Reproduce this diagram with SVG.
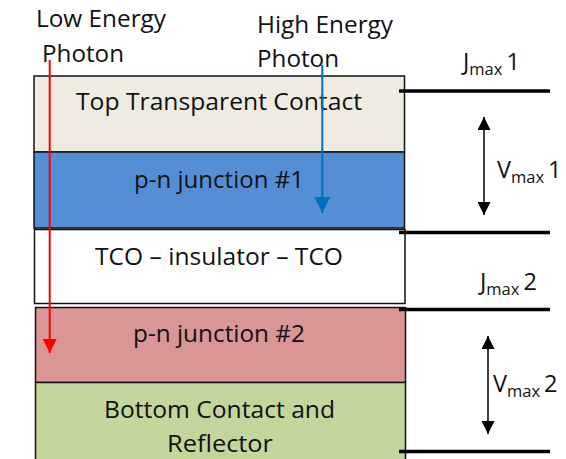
<svg xmlns="http://www.w3.org/2000/svg" width="566" height="459" viewBox="0 0 566 459">
<style>
text{font-family:"Open Sans","Liberation Sans",Arial,sans-serif;fill:#111;}
.lbl{font-size:23.5px;}
.big{font-size:23.5px;}
.sub{font-size:16.5px;}
.layer{stroke:#111;stroke-width:1.5;}
.term{stroke:#000;stroke-width:3.5;}
.v{stroke:#000;stroke-width:1.5;fill:none;}
</style>
<defs>
<marker id="ah" viewBox="0 0 10 10" refX="10" refY="5" markerWidth="14" markerHeight="13" markerUnits="userSpaceOnUse" orient="auto-start-reverse"><path d="M0,0 L10,5 L0,10 Z" fill="#000"/></marker>
<marker id="ahRed" viewBox="0 0 10 10" refX="10" refY="5" markerWidth="15" markerHeight="14" markerUnits="userSpaceOnUse" orient="auto"><path d="M0,0 L10,5 L0,10 Z" fill="#FF0000"/></marker>
<marker id="ahBlue" viewBox="0 0 10 10" refX="10" refY="5" markerWidth="16" markerHeight="16" markerUnits="userSpaceOnUse" orient="auto"><path d="M0,0 L10,5 L0,10 Z" fill="#0070C0"/></marker>
</defs>
<rect width="566" height="459" fill="#fff"/>

<g id="top-contact">
<rect class="layer" x="34" y="76" width="370.5" height="76" fill="#EEECE1"/>
<text class="lbl" x="219" y="110" text-anchor="middle" textLength="286" lengthAdjust="spacingAndGlyphs">Top Transparent Contact</text>
</g>
<g id="pn1">
<rect class="layer" x="34" y="152" width="370.5" height="76" fill="#558ED5"/>
<text class="lbl" x="219" y="188" text-anchor="middle" textLength="170" lengthAdjust="spacingAndGlyphs">p-n junction #1</text>
</g>
<g id="tco">
<rect class="layer" x="34.5" y="229.5" width="370.5" height="74" fill="#fff"/>
<text class="lbl" x="219" y="265" text-anchor="middle" textLength="248" lengthAdjust="spacingAndGlyphs">TCO – insulator – TCO</text>
</g>
<g id="pn2">
<rect class="layer" x="35.5" y="307.5" width="370" height="75" fill="#D99694" stroke="#555"/>
<text class="lbl" x="219" y="342" text-anchor="middle" textLength="172" lengthAdjust="spacingAndGlyphs">p-n junction #2</text>
</g>
<g id="bottom">
<rect class="layer" x="35.5" y="382.5" width="370" height="80" fill="#C3D69B"/>
<text class="lbl" x="219.5" y="418" text-anchor="middle" textLength="231" lengthAdjust="spacingAndGlyphs">Bottom Contact and</text>
<text class="lbl" x="220" y="452" text-anchor="middle" textLength="106" lengthAdjust="spacingAndGlyphs">Reflector</text>
</g>

<g id="photon-labels">
<text class="lbl" x="36" y="27" textLength="130" lengthAdjust="spacingAndGlyphs">Low Energy</text>
<text class="lbl" x="42" y="62" textLength="82" lengthAdjust="spacingAndGlyphs">Photon</text>
<text class="lbl" x="257" y="33" textLength="136" lengthAdjust="spacingAndGlyphs">High Energy</text>
<text class="lbl" x="257" y="67" textLength="82" lengthAdjust="spacingAndGlyphs">Photon</text>
</g>

<g id="terminals">
<text class="big" x="463" y="70">J<tspan class="sub" dy="5">max</tspan><tspan dy="-5" dx="4">1</tspan></text>
<text class="big" x="497" y="178">V<tspan class="sub" dy="5">max</tspan><tspan dy="-5" dx="4">1</tspan></text>
<text class="big" x="480" y="290">J<tspan class="sub" dy="5">max</tspan><tspan dy="-5" dx="4">2</tspan></text>
<text class="big" x="493" y="392">V<tspan class="sub" dy="5">max</tspan><tspan dy="-5" dx="4">2</tspan></text>
</g>

<g id="connectors">
<line class="term" x1="399" y1="91" x2="550" y2="91"/>
<line class="term" x1="399" y1="232.5" x2="550" y2="232.5"/>
<line class="term" x1="399" y1="309.5" x2="550" y2="309.5"/>
<line class="term" x1="399" y1="451.5" x2="550" y2="451.5"/>
<line class="v" x1="484" y1="117" x2="484" y2="215" marker-start="url(#ah)" marker-end="url(#ah)"/>
<line class="v" x1="488" y1="336" x2="488" y2="434" marker-start="url(#ah)" marker-end="url(#ah)"/>
<line x1="49.7" y1="60" x2="49.7" y2="353" stroke="#FF0000" stroke-width="2" marker-end="url(#ahRed)"/>
<line x1="322.3" y1="65" x2="322.3" y2="213" stroke="#0070C0" stroke-width="2" marker-end="url(#ahBlue)"/>
</g>
</svg>
